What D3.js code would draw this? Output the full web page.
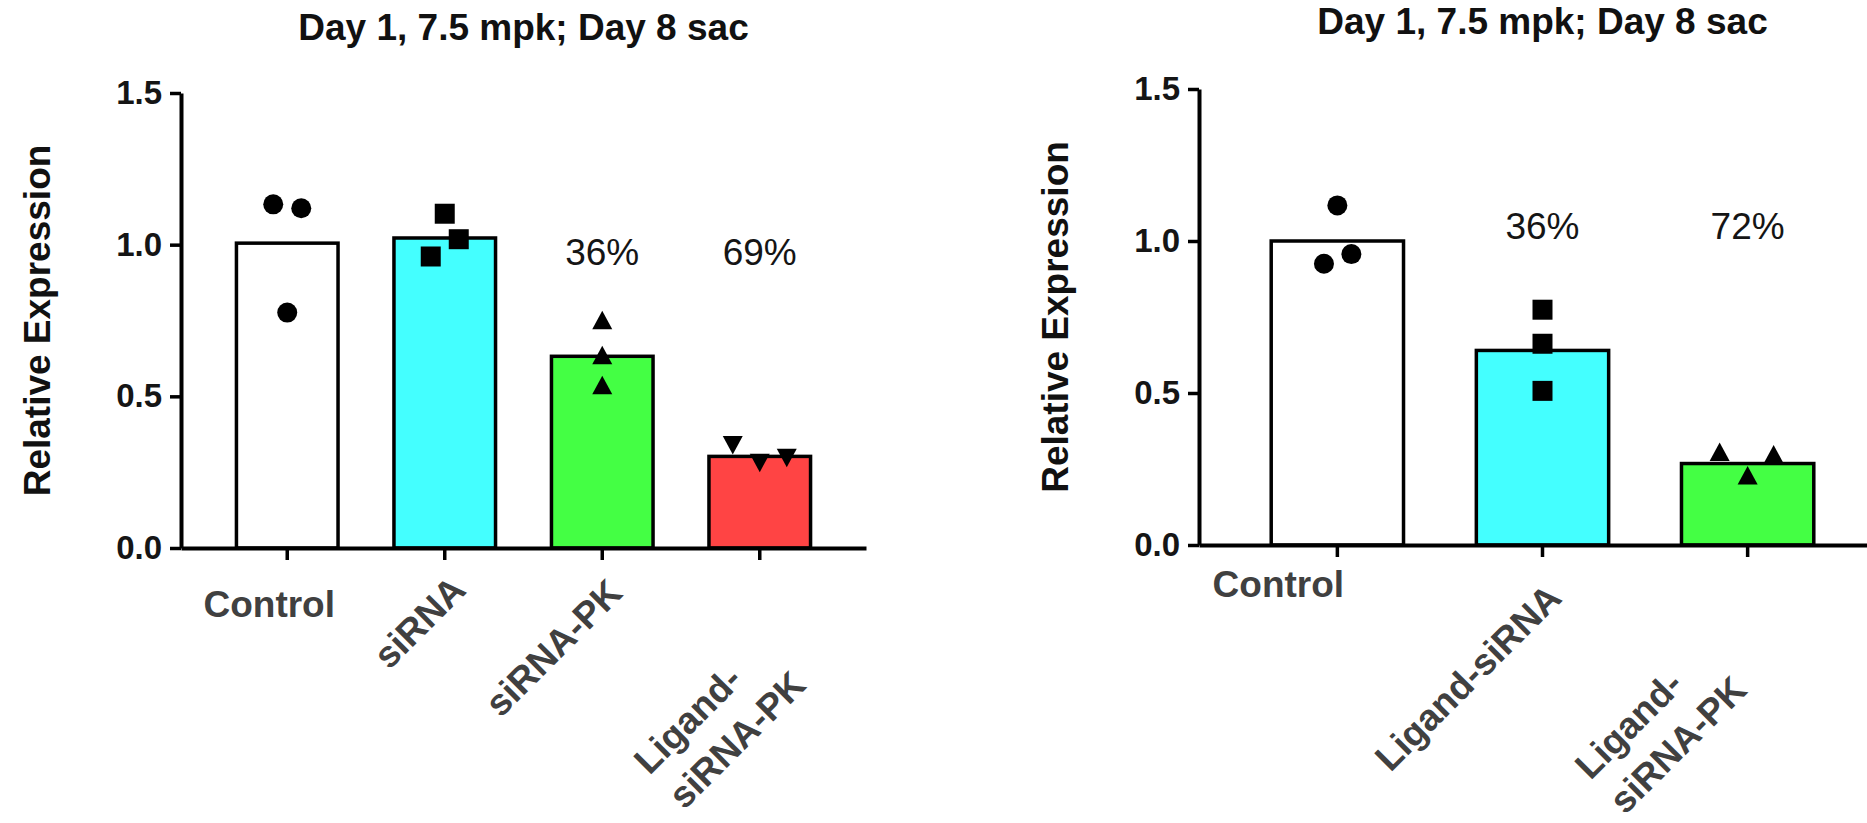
<!DOCTYPE html>
<html>
<head>
<meta charset="utf-8">
<script src="https://cdn.jsdelivr.net/npm/d3@7"></script>
<style>
    body { margin: 0; background: #fff; }
    svg text { font-family: "Liberation Sans", Arial, sans-serif; }
</style>
</head>
<body>
<svg id="chart" width="1867" height="823"></svg>
<script>
// ---- data, left panel ----
const leftCategories = ["Control", "siRNA", "siRNA-PK", "Ligand-\nsiRNA-PK"];
const leftMeans = [1.005, 1.022, 0.632, 0.302];
const leftPoints = [
    [1.133, 1.12, 0.776],
    [1.102, 1.018, 0.961],
    [0.749, 0.634, 0.535],
    [0.341, 0.283, 0.299]
];
const leftShapes = ["circle", "square", "triangle", "triangleDown"];
const leftFills = ["#ffffff", "#44ffff", "#44ff44", "#ff4444"];
const leftPercents = ["", "", "36%", "69%"];

// ---- data, right panel ----
const rightCategories = ["Control", "Ligand-siRNA", "Ligand-\nsiRNA-PK"];
const rightMeans = [1.0, 0.64, 0.268];
const rightPoints = [
    [1.117, 0.925, 0.957],
    [0.774, 0.662, 0.507],
    [0.304, 0.296, 0.227]
];
const rightShapes = ["circle", "square", "triangle"];
const rightFills = ["#ffffff", "#44ffff", "#44ff44"];
const rightPercents = ["", "36%", "72%"];

const titleText = "Day 1, 7.5 mpk; Day 8 sac";
const yTitleText = "Relative Expression";
const yTicks = [0, 0.5, 1.0, 1.5];

// ---- layout (positions only) ----
const leftLayout = {
    x0: 181, x1: 866, yBottom: 548, yTop: 93, titleY: 40, pctValue: 0.934,
    // horizontal spread of overlapping dots, in marker widths
    spread: [[-0.7, 0.7, 0], [0, 0.7, -0.7], [0, 0, 0], [-1.35, 0, 1.35]],
    labels: [
        {rot: false, dx: -18, dy: 69},
        {rot: true, dx: 23, dy: 44},
        {rot: true, dx: 22, dy: 47},
        {rot: true, dx: 48, dy: 139}
    ]
};
const rightLayout = {
    x0: 1199, x1: 1886, yBottom: 545, yTop: 89, titleY: 34, pctValue: 1.007,
    spread: [[0, -0.67, 0.7], [0, 0, 0], [-1.4, 1.3, 0]],
    labels: [
        {rot: false, dx: -59, dy: 52},
        {rot: true, dx: 21, dy: 55},
        {rot: true, dx: 1, dy: 147}
    ]
};

const markerSize = 20;
const lineH = 49;

function markerPath(shape, s) {
    const h = s / 2;
    if (shape === 'square') return `M${-h},${-h}h${s}v${s}h${-s}Z`;
    if (shape === 'triangle') return `M0,${-h}L${h},${h * 0.85}L${-h},${h * 0.85}Z`;
    if (shape === 'triangleDown') return `M0,${h}L${h},${-h * 0.85}L${-h},${-h * 0.85}Z`;
    return d3.symbol(d3.symbolCircle, Math.PI * h * h)();
}

function drawPanel(svg, cats, means, points, shapes, fills, percents, lay) {

    const x = d3.scaleBand()
        .domain(cats)
        .range([lay.x0, lay.x1])
        .paddingInner(0.355)
        .paddingOuter(0.352);

    const y = d3.scaleLinear()
        .domain([0, 1.5])
        .range([lay.yBottom, lay.yTop]);

    const g = svg.append('g');

    // bars
    g.selectAll('.bar')
        .data(cats)
        .join('rect')
        .attr('class', 'bar')
        .attr('x', d => x(d))
        .attr('width', x.bandwidth())
        .attr('y', (d, i) => y(means[i]))
        .attr('height', (d, i) => y(0) - y(means[i]))
        .attr('fill', (d, i) => fills[i])
        .attr('stroke', '#000')
        .attr('stroke-width', 3.5);

    // axes
    const yAxisG = g.append('g')
        .attr('transform', `translate(${lay.x0},0)`)
        .call(d3.axisLeft(y).tickValues(yTicks).tickFormat(d3.format('.1f'))
            .tickSize(11).tickSizeOuter(0).tickPadding(8));

    const xAxisG = g.append('g')
        .attr('transform', `translate(0,${lay.yBottom})`)
        .call(d3.axisBottom(x).tickFormat('').tickSize(12).tickSizeOuter(0));

    [yAxisG, xAxisG].forEach(a => {
        a.attr('font-size', null).attr('font-family', null);
        a.select('.domain').attr('stroke', '#000').attr('stroke-width', 4);
        a.selectAll('.tick line').attr('stroke', '#000').attr('stroke-width', 3.5);
    });
    yAxisG.selectAll('.tick text')
        .attr('font-size', 33)
        .attr('font-weight', 'bold')
        .attr('fill', '#151515');

    // individual points
    const pts = [];
    points.forEach((arr, i) => arr.forEach((v, j) => pts.push({cat: cats[i], v: v, shape: shapes[i], off: lay.spread[i][j]})));

    g.selectAll('.pt')
        .data(pts)
        .join('path')
        .attr('class', 'pt')
        .attr('d', d => markerPath(d.shape, markerSize))
        .attr('transform', d => `translate(${x(d.cat) + x.bandwidth() / 2 + d.off * markerSize},${y(d.v)})`)
        .attr('fill', '#000');

    // percent knockdown labels
    g.selectAll('.pct')
        .data(cats.filter((d, i) => percents[i]))
        .join('text')
        .attr('class', 'pct')
        .attr('x', d => x(d) + x.bandwidth() / 2)
        .attr('y', y(lay.pctValue))
        .attr('text-anchor', 'middle')
        .attr('font-size', 37)
        .attr('fill', '#151515')
        .text(d => percents[cats.indexOf(d)]);

    // category labels
    cats.forEach((c, i) => {
        const l = lay.labels[i];
        const cx = x(c) + x.bandwidth() / 2;
        const lab = g.append('g')
            .attr('font-size', 37)
            .attr('font-weight', 'bold')
            .attr('fill', '#404040');
        if (!l.rot) {
            lab.append('text')
                .attr('x', cx + l.dx)
                .attr('y', lay.yBottom + l.dy)
                .attr('text-anchor', 'middle')
                .text(c);
            return;
        }
        lab.attr('transform', `translate(${cx + l.dx},${lay.yBottom + l.dy}) rotate(-45)`);
        const lines = c.split('\n');
        const last = lab.append('text')
            .attr('text-anchor', 'end')
            .text(lines[lines.length - 1]);
        const w = last.node().getComputedTextLength();
        lines.slice(0, -1).forEach((t, k, arr) => {
            lab.append('text')
                .attr('x', -w)
                .attr('y', -(arr.length - k) * lineH)
                .text(t);
        });
    });

    // title
    g.append('text')
        .attr('x', (lay.x0 + lay.x1) / 2)
        .attr('y', lay.titleY)
        .attr('text-anchor', 'middle')
        .attr('font-size', 37)
        .attr('font-weight', 'bold')
        .attr('fill', '#111')
        .text(titleText);

    // y axis title
    g.append('text')
        .attr('transform', `translate(${lay.x0 - 131},${(lay.yBottom + lay.yTop) / 2}) rotate(-90)`)
        .attr('text-anchor', 'middle')
        .attr('font-size', 37)
        .attr('font-weight', 'bold')
        .attr('fill', '#111')
        .text(yTitleText);
}

const svg = d3.select('#chart');
drawPanel(svg, leftCategories, leftMeans, leftPoints, leftShapes, leftFills, leftPercents, leftLayout);
drawPanel(svg, rightCategories, rightMeans, rightPoints, rightShapes, rightFills, rightPercents, rightLayout);
</script>
</body>
</html>
